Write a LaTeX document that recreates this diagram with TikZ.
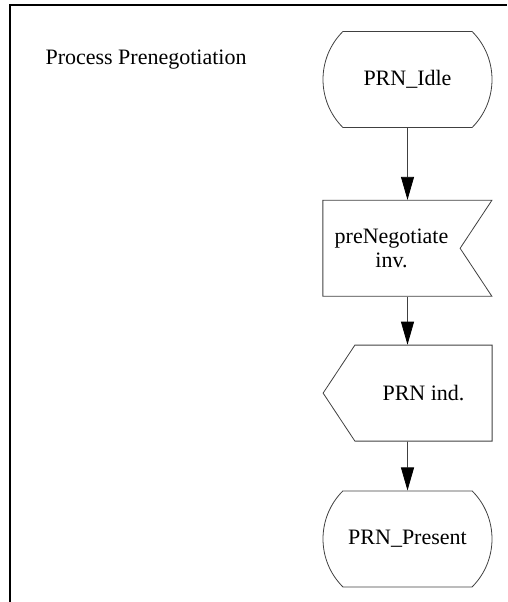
\documentclass[tikz,border=0pt]{standalone}
\usepackage{fontspec}
\setmainfont{Liberation Serif}
\usetikzlibrary{positioning, arrows.meta, shapes.misc, shapes.symbols}
\tikzset{
->, % directed connectors
>={Triangle[length=23pt, width=13pt, color=black, fill=black]}, % filled heads
every node/.style={font=\fontsize{22}{24}\selectfont},
box/.style={draw=black!75, line width=0.8pt, minimum width=169pt, minimum height=96pt, inner sep=0pt, align=center},
statebox/.style={box, rounded rectangle, rounded rectangle arc length=90},
inbox/.style={box, signal, signal from=east, signal to=nowhere, signal pointer angle=113},
outbox/.style={box, signal, signal to=west, signal from=nowhere, signal pointer angle=113},
flow/.style={color=black!75, line width=0.8pt},
}
\begin{document}
\begin{tikzpicture}[x=1pt, y=-1pt]
    \useasboundingbox (0,0) rectangle (507,602);
    \draw[-, line width=2pt] (10,602) -- (10,5) -- (507,5);
    \node[anchor=base west] (title) at (42,64) {Process Prenegotiation};
    \node[statebox] (idle) at (407.5,79.5) {PRN\_Idle};
    \node[inbox, below=72pt of idle, xshift=-16pt] (preneg) {preNegotiate\\inv.};
    \node[outbox, below=48pt of preneg, xshift=32pt] (prnind) {PRN ind.};
    \node[statebox, below=49pt of prnind, xshift=-16pt] (present) {PRN\_Present};
    \path[flow]
        (idle) edge (idle |- preneg.north)
        (idle |- preneg.south) edge (idle |- prnind.north)
        (present |- prnind.south) edge (present)
        ;
\end{tikzpicture}
\end{document}
